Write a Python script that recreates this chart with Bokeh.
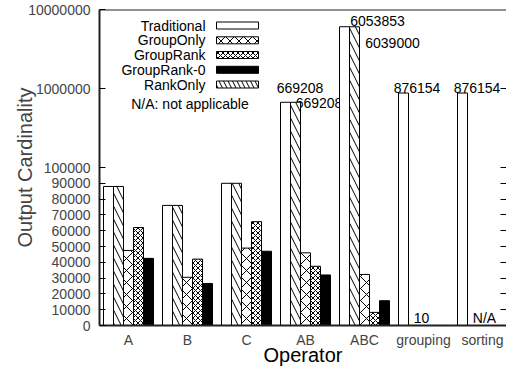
import math
from bokeh.plotting import figure
from bokeh.models import (ColumnDataSource, Range1d, LogScale, LinearAxis,
                          FixedTicker, NumeralTickFormatter, Label, BoxAnnotation, Title)
from bokeh.embed import file_html
from bokeh.resources import INLINE
from bokeh.core.properties import value

# ---------------- data ----------------
groups = ["A", "B", "C", "AB", "ABC", "grouping", "sorting"]
series = ["Traditional", "RankOnly", "GroupOnly", "GroupRank", "GroupRank-0"]
nan = float("nan")
traditional = [88000, 76000, 90000, 669208, 6053853, 876154, 876154]
rank_only   = [88000, 76000, 90000, 669208, 6039000, 10, nan]
group_only  = [47500, 30500, 49000, 46000, 32300, 10, nan]
group_rank  = [62000, 42000, 65700, 37500, 8300, 10, nan]
group_rank0 = [42500, 26600, 47000, 32000, 15700, 10, nan]
series_values = [traditional, rank_only, group_only, group_rank, group_rank0]

lin_ticks = [0, 10000, 20000, 30000, 40000, 50000, 60000, 70000, 80000, 90000, 100000]
log_ticks = [1000000, 10000000]
legend_order = ["Traditional", "GroupOnly", "GroupRank", "GroupRank-0", "RankOnly"]
note_text = "N/A: not applicable"
x_title = "Operator"
y_title = "Output Cardinality"

label_group  = ["AB", "AB", "ABC", "ABC", "grouping", "sorting", "grouping", "sorting"]
label_series = ["Traditional", "RankOnly", "Traditional", "RankOnly", "Traditional",
                "Traditional", "GroupOnly", "GroupOnly"]
label_text   = ["669208", "669208", "6053853", "6039000", "876154", "876154", "10", "N/A"]

# ---------------- style / layout ----------------
FONT = "Liberation Sans"
W, H = 506, 371
B_L, B_T = 99, 9
FRAME_W = W - B_L
FRAME_H = 316
B_B = H - B_T - FRAME_H
LIN_PX = 158             # frame pixels used by the linear 0..100000 part
GROUP_PX, BAR_PX = 59, 10
LEFT_PAD_PX = 29
SPLIT = 100000

x_start = -LEFT_PAD_PX / GROUP_PX
x_end = x_start + FRAME_W / GROUP_PX
lin_end = SPLIT * FRAME_H / LIN_PX
decades = 2 * FRAME_H / (FRAME_H - LIN_PX)
log_start = 1e7 / 10 ** decades

styles = {
    "Traditional": dict(fill_color="white", hatch_pattern=None, hatch_scale=12),
    "RankOnly":    dict(fill_color="white", hatch_pattern="\\", hatch_scale=13),
    "GroupOnly":   dict(fill_color="white", hatch_pattern="x", hatch_scale=12),
    "GroupRank":   dict(fill_color="white", hatch_pattern="x", hatch_scale=5),
    "GroupRank-0": dict(fill_color="black", hatch_pattern=None, hatch_scale=12),
}

p = figure(width=W, height=H, output_backend="svg", toolbar_location=None,
           x_range=Range1d(x_start, x_end), y_range=Range1d(0, lin_end),
           min_border_left=B_L, min_border_right=0, min_border_top=B_T,
           min_border_bottom=B_B)
p.extra_y_ranges = {"log": Range1d(log_start, 1e7)}
p.extra_y_scales = {"log": LogScale()}
p.outline_line_color = None
p.xgrid.visible = False
p.ygrid.visible = False
p.background_fill_color = "white"
p.border_fill_color = "white"

# ---------------- value labels (drawn below the bars) ----------------
def sx(gi, s):
    return gi + (series.index(s) - 2) * BAR_PX / GROUP_PX

lab_x, lab_y = [], []
for g, s in zip(label_group, label_series):
    gi = groups.index(g)
    v = series_values[series.index(s)][gi]
    lab_x.append(sx(gi, s))
    lab_y.append(0 if (v != v) else v)
x_offs = [14.5, 23.5, 33, 38, 13.5, 14.5, -2, 2]
y_offs = [-13.8, 1.2, -5.5, 15.7, -5.5, -5.5, -7.5, -7.5]

hi = [i for i, y in enumerate(lab_y) if y > SPLIT]
lo = [i for i, y in enumerate(lab_y) if y <= SPLIT]
for idx, rng in ((hi, "log"), (lo, "default")):
    src = ColumnDataSource(dict(x=[lab_x[i] for i in idx], y=[lab_y[i] for i in idx],
                                t=[label_text[i] for i in idx],
                                xo=[x_offs[i] for i in idx], yo=[y_offs[i] for i in idx]))
    p.text(x="x", y="y", text="t", x_offset="xo", y_offset="yo", source=src,
           y_range_name=rng, text_align="center", text_baseline="middle",
           text_font=value(FONT), text_font_size="14px", text_color="black")

# ---------------- bars ----------------
bw = BAR_PX / GROUP_PX
for s, vals in zip(series, series_values):
    st = styles[s]
    xs = [sx(i, s) for i in range(len(groups))]
    lo_x = [x for x, v in zip(xs, vals) if v == v and v <= SPLIT]
    lo_v = [v for v in vals if v == v and v <= SPLIT]
    hi_x = [x for x, v in zip(xs, vals) if v == v and v > SPLIT]
    hi_v = [v for v in vals if v == v and v > SPLIT]
    kw = dict(width=bw, fill_color=st["fill_color"], line_color="black", line_width=1)
    if st["hatch_pattern"]:
        kw.update(hatch_pattern=st["hatch_pattern"], hatch_scale=st["hatch_scale"],
                  hatch_color="black", hatch_weight=1)
    if lo_x:
        p.vbar(x=lo_x, top=lo_v, bottom=0, **kw)
    if hi_x:
        p.vbar(x=hi_x, top=hi_v, bottom=1, y_range_name="log", **kw)

# ---------------- axes ----------------
# broken axis: linear part 0..100000, logarithmic decades above it
log_pos = [SPLIT + (math.log10(t) - 5) / 2 * (lin_end - SPLIT) for t in log_ticks]
all_ticks = lin_ticks + log_pos
overrides = {pos: str(t) for pos, t in zip(log_pos, log_ticks)}

ax = p.xaxis[0]
ax.ticker = FixedTicker(ticks=list(range(len(groups))))
ax.major_label_overrides = {i: g for i, g in enumerate(groups)}
ax.major_tick_in = 0
ax.major_tick_out = 0
ax.minor_tick_line_color = None
ax.axis_line_width = 2
ax.axis_line_color = "#222222"
ax.major_label_text_font = FONT
ax.major_label_text_font_size = "14px"
ax.major_label_standoff = 6

ay = p.yaxis[0]
ay.ticker = FixedTicker(ticks=all_ticks)
ay.formatter = NumeralTickFormatter(format="0")
ay.major_label_overrides = overrides
ay.major_tick_in = 6
ay.major_tick_out = 0
ay.minor_tick_line_color = None
ay.axis_line_width = 2
ay.axis_line_color = "#222222"
ay.major_label_text_font = FONT
ay.major_label_text_font_size = "14px"
ay.major_label_standoff = 9
ay.axis_label = y_title
ay.axis_label_text_font = FONT
ay.axis_label_text_font_size = "20px"
ay.axis_label_text_font_style = "normal"
ay.axis_label_standoff = -11

ry = LinearAxis(ticker=FixedTicker(ticks=all_ticks[1:-1]), fixed_location=x_end,
                major_tick_in=6, major_tick_out=0, minor_tick_line_color=None,
                axis_line_color=None,
                major_label_overrides={t: "" for t in all_ticks[1:-1]})
p.add_layout(ry, "right")

top = LinearAxis(ticker=FixedTicker(ticks=[]), fixed_location=lin_end,
                 major_tick_in=0, major_tick_out=0, minor_tick_line_color=None,
                 axis_line_width=2, axis_line_color="#222222")
p.add_layout(top, "above")

p.add_layout(Title(text=x_title, align="center", offset=10, standoff=-18,
                   text_font=FONT, text_font_size="20px", text_font_style="normal",
                   text_color="black"), "below")

# ---------------- legend ----------------
row_y = [300, 285.2, 270.5, 255.7, 241]
for s, yy in zip(legend_order, row_y):
    p.add_layout(Label(x=106, y=yy, x_units="screen", y_units="screen", text=s,
                       text_align="right", text_baseline="middle", text_font=FONT,
                       text_font_size="14px", text_color="black"))
    st = styles[s]
    kw = dict(left=117, right=159, top=yy + 3.5, bottom=yy - 3.5,
              left_units="screen", right_units="screen", top_units="screen",
              bottom_units="screen", fill_color=st["fill_color"], fill_alpha=1,
              line_color="black", line_width=1, line_alpha=1)
    if st["hatch_pattern"]:
        kw.update(hatch_pattern=st["hatch_pattern"], hatch_scale=min(st["hatch_scale"], 9),
                  hatch_color="black", hatch_weight=1)
    p.add_layout(BoxAnnotation(**kw))
p.add_layout(Label(x=90.5, y=222, x_units="screen", y_units="screen", text=note_text,
                   text_align="center", text_baseline="middle", text_font=FONT,
                   text_font_size="14px", text_color="black"))

open("out.html", "w").write(file_html(p, INLINE))
